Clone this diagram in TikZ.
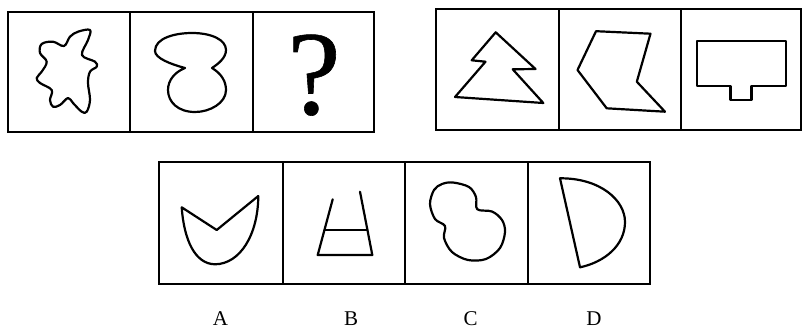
\documentclass[tikz,border=0pt]{standalone}
\usepackage{fontspec}
\setmainfont{Liberation Serif}
\newfontfamily\qfont[FakeBold=0.5]{Liberation Serif}
\begin{document}
\begin{tikzpicture}[x=1pt,y=-1pt,
  cell/.style={draw,line width=2pt,inner sep=0pt,outer sep=0pt,minimum height=#1},
  cell/.default=120pt,
  fig/.style={draw,line width=2.2pt,line join=round,line cap=round},
  lbl/.style={font=\fontsize{21}{21}\selectfont,inner sep=0pt,anchor=base}]
\useasboundingbox (0,0) rectangle (802,329);
\fill[white] (0,0) rectangle (802,329);
% top-left panel
\node[cell,minimum width=122pt] (t1) at (69,72) {};
\node[cell,minimum width=122.5pt] (t2) at (191.25,72) {};
\node[cell,minimum width=121.5pt] (t3) at (313.25,72) {};
% top-right panel
\node[cell=120.5pt,minimum width=122.5pt] (r1) at (497.25,69.75) {};
\node[cell=120.5pt,minimum width=122.5pt] (r2) at (619.75,69.75) {};
\node[cell=120.5pt,minimum width=119.5pt] (r3) at (740.75,69.75) {};
% bottom panel
\node[cell=122.5pt,minimum width=123.5pt] (a) at (220.75,222.75) {};
\node[cell=122.5pt,minimum width=122.5pt] (b) at (343.75,222.75) {};
\node[cell=122.5pt,minimum width=122.5pt] (c) at (466.25,222.75) {};
\node[cell=122.5pt,minimum width=122.5pt] (d) at (588.75,222.75) {};
% shape 1: blob
\draw[fig] plot[smooth cycle,tension=0.6] coordinates {
 (41.7,44) (53,41.7) (64,46) (70,36.7) (78,31.7) (90,30) (88,40) (82,55)
 (95,61.7) (96.7,66.7) (90,71.7) (88,83) (90,100) (86.7,111.7) (81.7,111.7)
 (73,103) (68,98) (60,105) (53,106.7) (50,100) (51.7,90) (40,83) (36.7,78)
 (41.7,71.7) (46.7,61.7) (40,53)};
% shape 2: figure eight
\draw[fig] (185,68) .. controls (170,64) and (155,58) .. (155,51)
  .. controls (155,38) and (175,33) .. (192,33)
  .. controls (212,33) and (226,40) .. (226,50)
  .. controls (226,58) and (218,64) .. (212,68)
  .. controls (222,74) and (226,82) .. (226,90)
  .. controls (226,103) and (210,112) .. (195,112)
  .. controls (178,112) and (168,102) .. (168,90)
  .. controls (168,80) and (175,72) .. (185,68) -- cycle;
% question mark
\node[inner sep=0pt,anchor=base,font=\qfont\fontsize{120}{120}\selectfont] (q) at (314,114) {?};
% tree
\draw[fig] (495.7,32.3) -- (535.5,69) -- (512.7,69.3) -- (543.3,103) -- (455,97)
  -- (485.5,61.7) -- (471.7,60.3) -- cycle;
% chevron
\draw[fig] (596,31.2) -- (650.5,33.7) -- (636.8,81.7) -- (665,111.7) -- (606.7,108.3)
  -- (577.5,70) -- cycle;
% T shape
\draw[fig] (696.7,41.3) -- (785.7,41.3) -- (785.7,86.3) -- (751.5,86.3) -- (751.5,100)
  -- (730.5,100) -- (730.5,86.3) -- (696.7,86.3) -- cycle;
% A
\draw[fig] (181.7,207.3) -- (216.7,230) -- (258.3,196)
  .. controls (258,235) and (240,264) .. (215,264.3)
  .. controls (195,264) and (184,240) .. (181.7,207.3) -- cycle;
% B
\draw[fig] (332.7,199.3) -- (317.7,255) -- (372.3,255) -- (360,191.7);
\draw[fig] (324.4,230) -- (367.4,230);
% C
\draw[fig] plot[smooth cycle,tension=0.55] coordinates {
 (453,182.5) (469,187) (476,197) (477.3,209.3) (492,211.5) (502,220) (505,232)
 (500,248) (486,259) (468,260) (452,252) (444,238) (445,226) (435,219)
 (430,204) (434,190) (442,184)};
% D
\draw[fig] (560,178.3) .. controls (600,178) and (625,200) .. (625,222)
  .. controls (625,245) and (605,262) .. (580,267.3) -- cycle;
% labels
\node[lbl] (la) at (220.5,325) {A};
\node[lbl] (lb) at (351,325) {B};
\node[lbl] (lc) at (470.5,325) {C};
\node[lbl] (ld) at (594,325) {D};
\end{tikzpicture}
\end{document}
